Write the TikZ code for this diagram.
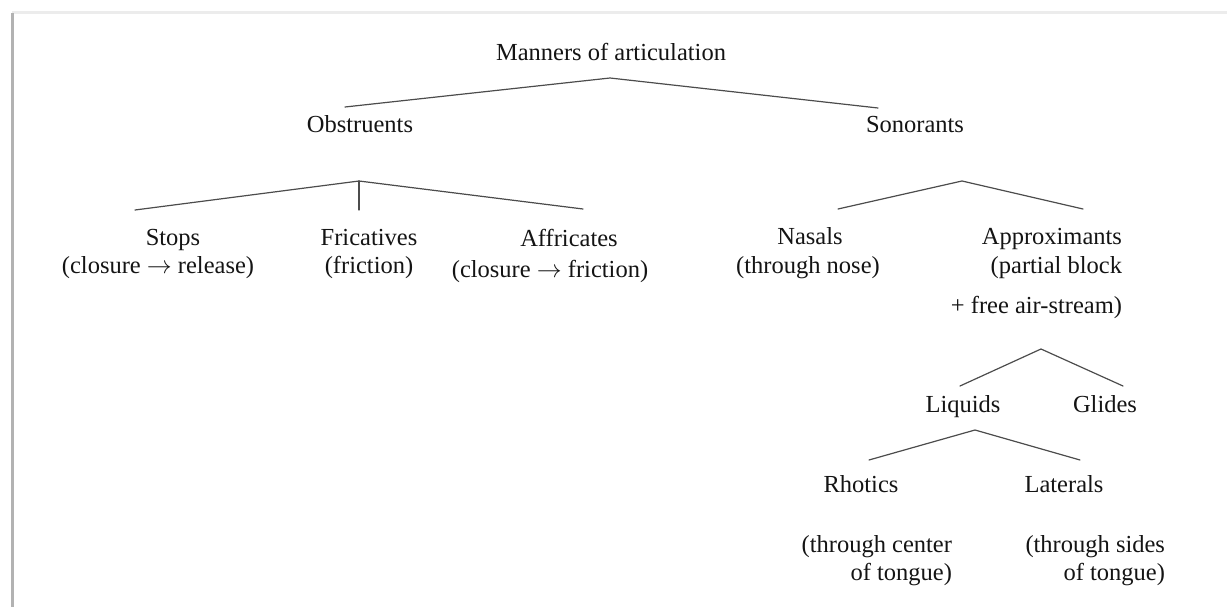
\documentclass[tikz,border=0pt]{standalone}
\usepackage{fontspec}
\setmainfont{Liberation Serif}
\begin{document}
\begin{tikzpicture}[x=1pt,y=-1pt,
  lbl/.style={inner sep=0pt, outer sep=0pt, anchor=base,
    font=\fontsize{24.5}{29}\selectfont, text=black!92},
  branch/.style={draw=black!70, line width=1.2pt, line cap=round},
]
\useasboundingbox (0,0) rectangle (1227,607);
% page edges
\draw[gray!15, line width=3pt] (12,13) -- (1227,13);
\draw[gray!60, line width=3pt] (12,13) -- (12,607);

% labels
\node[lbl] (manners) at (611,61) {Manners of articulation};
\node[lbl] (obs) at (360,133) {Obstruents};
\node[lbl] (son) at (915,133) {Sonorants};

\node[lbl] (stops) at (173,245) {Stops};
\node[lbl] (stopsd) at (158,273) {(closure $\rightarrow$ release)};
\node[lbl] (fric) at (369,245) {Fricatives};
\node[lbl] (fricd) at (369,273) {(friction)};
\node[lbl] (affr) at (569,247) {Affricates};
\node[lbl] (affrd) at (550,277) {(closure $\rightarrow$ friction)};

\node[lbl] (nas) at (810,244) {Nasals};
\node[lbl] (nasd) at (808,273) {(through nose)};
\node[lbl, anchor=base east] (appr) at (1122,244) {Approximants};
\node[lbl, anchor=base east] (apprd) at (1122,273) {(partial block};
\node[lbl, anchor=base east] (apprd2) at (1122,313) {+ free air-stream)};

\node[lbl] (liq) at (963,412) {Liquids};
\node[lbl] (gli) at (1105,412) {Glides};

\node[lbl] (rho) at (861,492) {Rhotics};
\node[lbl] (lat) at (1064,492) {Laterals};
\node[lbl, anchor=base east] (rhod) at (952,552) {(through center};
\node[lbl, anchor=base east] (rhod2) at (952,580) {of tongue)};
\node[lbl, anchor=base east] (latd) at (1165,552) {(through sides};
\node[lbl, anchor=base east] (latd2) at (1165,580) {of tongue)};

% branch points and branch ends
\coordinate (mannersj) at (610,78);
\coordinate (obs-in) at (345,107);
\coordinate (son-in) at (878,108);

\coordinate (obsj) at (359,181);
\coordinate (stops-in) at (135,210);
\coordinate (fric-in) at (359,210);
\coordinate (affr-in) at (583,209);

\coordinate (sonj) at (962,181);
\coordinate (nas-in) at (838,209);
\coordinate (appr-in) at (1083,209);

\coordinate (apprj) at (1041,349);
\coordinate (liq-in) at (960,386);
\coordinate (gli-in) at (1123,386);

\coordinate (liqj) at (975,430);
\coordinate (rho-in) at (869,460);
\coordinate (lat-in) at (1080,460);

% branches
\draw[branch] (obs-in) -- (mannersj) -- (son-in);
\draw[branch] (stops-in) -- (obsj) -- (affr-in);
\draw[branch] (obsj) -- (fric-in);
\draw[branch] (nas-in) -- (sonj) -- (appr-in);
\draw[branch] (liq-in) -- (apprj) -- (gli-in);
\draw[branch] (rho-in) -- (liqj) -- (lat-in);
\end{tikzpicture}
\end{document}
